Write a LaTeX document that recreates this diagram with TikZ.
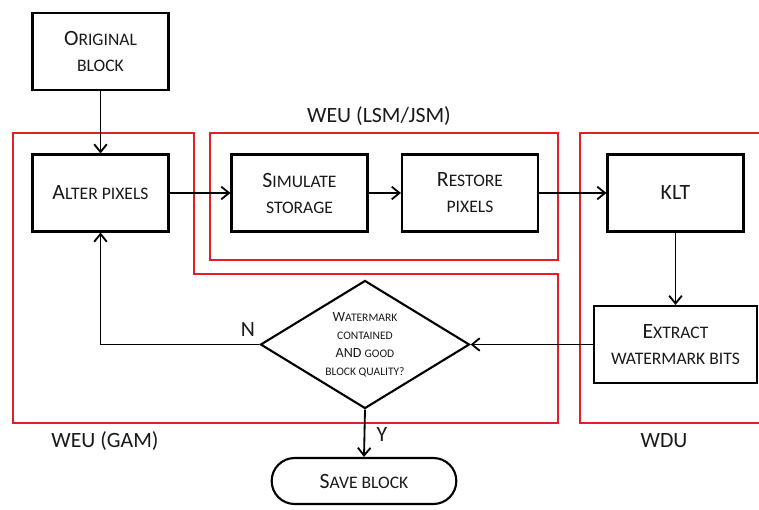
\documentclass[tikz,border=0pt]{standalone}
\usepackage{fontspec}
\setmainfont{Carlito}
\usetikzlibrary{shapes.geometric,shapes.misc,arrows.meta}
\definecolor{unitred}{RGB}{228,30,36}
\definecolor{inkgray}{RGB}{25,25,25}
\newcommand{\sm}[1]{{\fontsize{12.5}{18.5}\selectfont #1}}
\newcommand{\tsm}[1]{{\fontsize{8.2}{12.8}\selectfont #1}}

\begin{document}
\begin{tikzpicture}[x=0.025cm,y=-0.025cm,
    >={Straight Barb[length=5.5pt,width=9pt]},
    font=\fontsize{15.5}{18.5}\selectfont, text=inkgray]
\useasboundingbox (0,0) rectangle (759,509);

% the three units
\begin{scope}[draw=unitred, line width=1.5pt]
    \draw (13,133) -- (194,133) -- (194,274) -- (558,274) -- (558,423) -- (13,423) -- cycle;
    \draw (210,133) rectangle (558,260);
    \draw (766,133) -- (580,133) -- (580,423) -- (766,423);
\end{scope}

\node (weulsm) at (379,116) {WEU (LSM/JSM)};
\node (weugam) at (105,441) {WEU (GAM)};
\node (wdu) at (664,441) {WDU};

\begin{scope}[every node/.style={rectangle,draw=black,line width=1.5pt,align=center,
              minimum width=3.4cm,minimum height=1.925cm}]
    \node (orig) at (100.5,51.5) {O\sm{RIGINAL}\\\sm{BLOCK}};
    \node (alter) at (100.5,193) {A\sm{LTER PIXELS}};
    \node (sim) at (299.5,193) {S\sm{IMULATE}\\\sm{STORAGE}};
    \node (rest) at (470,193) {R\sm{ESTORE}\\\sm{PIXELS}};
    \node (klt) at (675.5,193) {KLT};
    \node[minimum width=4.075cm] (extract) at (675.5,344.5) {E\sm{XTRACT}\\\sm{WATERMARK BITS}};
\end{scope}

\node[diamond,draw=black,line width=1.5pt,aspect=1.63,inner sep=0pt,
      minimum width=5.225cm,minimum height=3.2cm,align=center,
      font=\fontsize{10}{12.8}\selectfont] (check) at (365,344.5)
      {W\tsm{ATERMARK}\\\tsm{CONTAINED}\\AND \tsm{GOOD}\\\tsm{BLOCK QUALITY?}};
\node[rounded rectangle,draw=black,line width=1.5pt,
      minimum width=4.85cm,minimum height=1.15cm] (save) at (364,481) {S\sm{AVE BLOCK}};

\begin{scope}[every edge/.style={draw=black,line width=1.3pt}]
    \path [->] (orig) edge (alter);
    \path [->] (alter) edge (sim);
    \path [->] (sim) edge (rest);
    \path [->] (rest) edge (klt);
    \path [->] (klt) edge (extract);
    \path [->] (extract) edge (check);
\end{scope}

\draw [->,line width=1.3pt] (check.west) -| (alter.south);
\draw [->,line width=1.3pt] (check.south) -- (save.north);
\node (no) at (248,329) {N};
\node (yes) at (382,434) {Y};
\end{tikzpicture}
\end{document}
